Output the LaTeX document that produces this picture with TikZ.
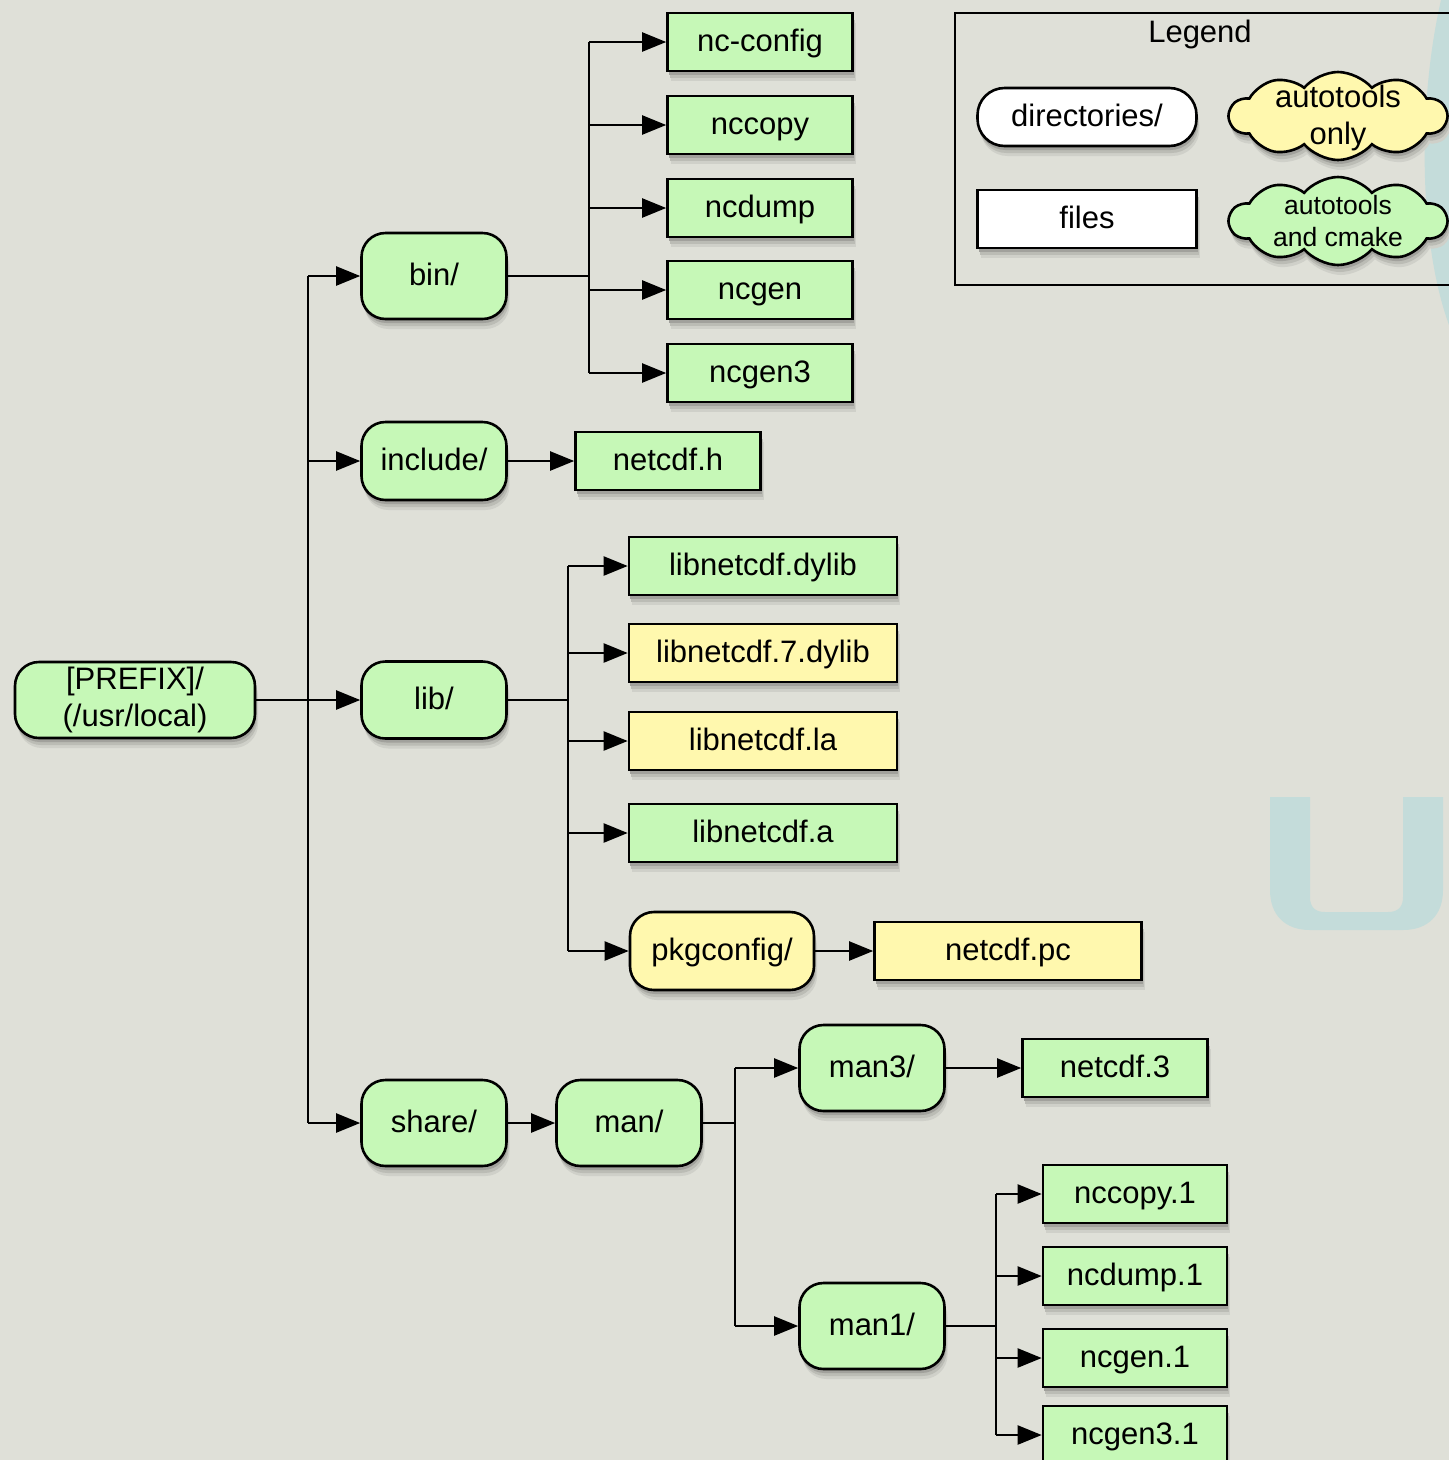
\documentclass[tikz,border=0pt]{standalone}
\usepackage{fontspec}
\setmainfont{Liberation Sans}
\usetikzlibrary{arrows.meta,shapes.symbols,shadows}
\definecolor{bg}{HTML}{DFE0D8}
\definecolor{dgreen}{HTML}{C6F8B7}
\definecolor{dyellow}{HTML}{FFF8AE}
\definecolor{wm}{HTML}{C4DCDA}
\colorlet{sh1}{bg!93!black}
\colorlet{sh2}{bg!84!black}
\colorlet{sh3}{bg!72!black}
\tikzset{
 softshadow/.style={
   general shadow={shadow xshift=3pt,shadow yshift=-10pt,fill=sh1},
   general shadow={shadow xshift=2pt,shadow yshift=-7pt,fill=sh2},
   general shadow={shadow xshift=1pt,shadow yshift=-4pt,fill=sh3}},
 base/.style={draw=black, line width=2.6pt, font=\fontsize{31}{37}\selectfont, align=center, inner sep=0pt, softshadow},
 one/.style={text height=18pt, text depth=0pt},
 dirbox/.style={base, one, rounded corners=24pt, minimum width=145pt, minimum height=86pt},
 filebox/.style={base, one, minimum width=185pt, minimum height=58pt},
 grn/.style={fill=dgreen}, ylw/.style={fill=dyellow},
 conn/.style={line width=2.2pt, -{Triangle[length=24pt,width=19pt]}},
 wire/.style={line width=2.2pt},
 legcloud/.style={draw=black, line width=2.6pt, softshadow, cloud, cloud puffs=10, cloud puff arc=100, aspect=2.47, inner sep=0pt, minimum width=217pt, minimum height=88pt},
}
\begin{document}
\begin{tikzpicture}[x=1pt,y=-1pt]
\useasboundingbox (0,0) rectangle (1449,1460);
\clip (0,0) rectangle (1449,1460);
\fill[bg] (0,0) rectangle (1449,1460);
% watermark
\fill[wm] (1270,797) -- (1270,890) .. controls (1270,915) and (1285,930) .. (1310,930) -- (1403,930)
  .. controls (1428,930) and (1443,915) .. (1443,890) -- (1443,797) -- (1403,797) -- (1403,897)
  .. controls (1403,907) and (1398,912) .. (1388,912) -- (1325,912) .. controls (1315,912) and (1310,907) .. (1310,897)
  -- (1310,797) -- cycle;
\fill[wm] (1449,0) -- (1441,0) .. controls (1418,100) and (1418,240) .. (1449,325) -- cycle;

% nodes
\node[base,grn,rounded corners=24pt,minimum width=240pt,minimum height=76pt] (prefix) at (135,700) {[PREFIX]/\\(/usr/local)};
\node[dirbox,grn] (bin) at (434,276) {bin/};
\node[dirbox,grn,minimum height=78pt] (include) at (434,461) {include/};
\node[dirbox,grn,minimum height=77pt] (lib) at (434,700) {lib/};
\node[dirbox,grn] (share) at (434,1123) {share/};
\node[dirbox,grn] (man) at (629,1123) {man/};
\node[dirbox,grn] (man3) at (872,1068) {man3/};
\node[dirbox,grn] (man1) at (872,1326) {man1/};

\node[filebox,grn] (f1) at (760,42) {nc-config};
\node[filebox,grn] (f2) at (760,125) {nccopy};
\node[filebox,grn] (f3) at (760,208) {ncdump};
\node[filebox,grn] (f4) at (760,290) {ncgen};
\node[filebox,grn] (f5) at (760,373) {ncgen3};

\node[filebox,grn] (nch) at (668,461) {netcdf.h};

\node[filebox,grn,minimum width=268pt] (l1) at (763,566) {libnetcdf.dylib};
\node[filebox,ylw,minimum width=268pt] (l2) at (763,653) {libnetcdf.7.dylib};
\node[filebox,ylw,minimum width=268pt] (l3) at (763,741) {libnetcdf.la};
\node[filebox,grn,minimum width=268pt] (l4) at (763,833) {libnetcdf.a};
\node[dirbox,ylw,minimum width=184pt,minimum height=78pt] (pkg) at (722,951) {pkgconfig/};
\node[filebox,ylw,minimum width=267pt] (pc) at (1008,951) {netcdf.pc};

\node[filebox,grn] (n3) at (1115,1068) {netcdf.3};
\node[filebox,grn,minimum width=184pt] (m1) at (1135,1194) {nccopy.1};
\node[filebox,grn,minimum width=184pt] (m2) at (1135,1276) {ncdump.1};
\node[filebox,grn,minimum width=184pt] (m3) at (1135,1358) {ncgen.1};
\node[filebox,grn,minimum width=184pt] (m4) at (1135,1435) {ncgen3.1};

% junctions
\coordinate (jp) at (308,700);
\coordinate (jb) at (589,276);
\coordinate (jl) at (568,700);
\coordinate (jm) at (735,1123);
\coordinate (jm1) at (996,1326);

\draw[wire] (prefix.east) -- (jp);
\draw[wire] (jp |- bin.west) -- (jp |- share.west);
\foreach \t in {bin,include,lib,share} \draw[conn] (jp |- \t.west) -- (\t.west);

\draw[wire] (bin.east) -- (jb);
\draw[wire] (jb |- f1.west) -- (jb |- f5.west);
\foreach \t in {f1,f2,f3,f4,f5} \draw[conn] (jb |- \t.west) -- (\t.west);

\draw[conn] (include.east) -- (nch.west);

\draw[wire] (lib.east) -- (jl);
\draw[wire] (jl |- l1.west) -- (jl |- pkg.west);
\foreach \t in {l1,l2,l3,l4,pkg} \draw[conn] (jl |- \t.west) -- (\t.west);
\draw[conn] (pkg.east) -- (pc.west);

\draw[conn] (share.east) -- (man.west);
\draw[wire] (man.east) -- (jm);
\draw[wire] (jm |- man3.west) -- (jm |- man1.west);
\foreach \t in {man3,man1} \draw[conn] (jm |- \t.west) -- (\t.west);
\draw[conn] (man3.east) -- (n3.west);

\draw[wire] (man1.east) -- (jm1);
\draw[wire] (jm1 |- m1.west) -- (jm1 |- m4.west);
\foreach \t in {m1,m2,m3,m4} \draw[conn] (jm1 |- \t.west) -- (\t.west);

% legend
\draw[line width=2.2pt] (955,13) rectangle (1470,285);
\node[font=\fontsize{31}{37}\selectfont] (legtitle) at (1200,34) {Legend};
\node[base,one,fill=white,rounded corners=27pt,minimum width=219pt,minimum height=58pt] (ldir) at (1087,117) {directories/};
\node[base,one,fill=white,minimum width=219pt,minimum height=58pt] (lfile) at (1087,219) {files};
\node[legcloud,ylw] (lc1) at (1338,116) {};
\node[font=\fontsize{31}{37}\selectfont, align=center] (lc1t) at (1338,118) {autotools\\only};
\node[legcloud,grn] (lc2) at (1338,221) {};
\node[font=\fontsize{26.5}{32}\selectfont, align=center] (lc2t) at (1338,221) {autotools\\and cmake};
\end{tikzpicture}
\end{document}
